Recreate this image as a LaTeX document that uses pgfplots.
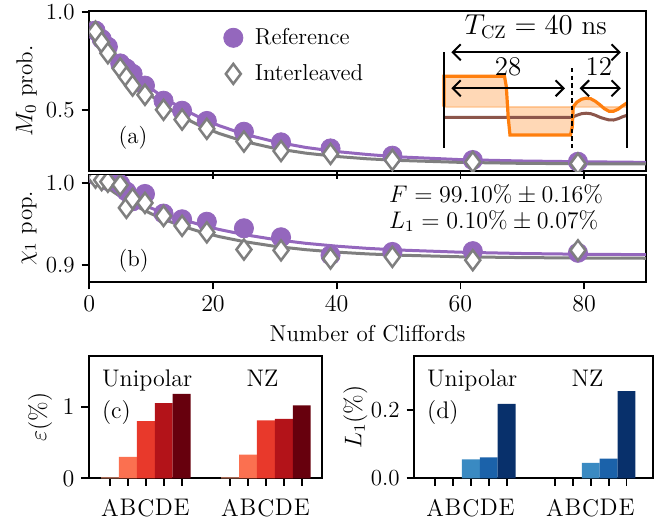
\documentclass[border=0pt]{standalone}
\usepackage{pgfplots}
\pgfplotsset{compat=1.18}
\usetikzlibrary{arrows.meta}
\definecolor{cpurple}{RGB}{148,103,189}
\definecolor{cgray}{RGB}{127,127,127}
\definecolor{corange}{RGB}{255,127,14}
\definecolor{cbrown}{RGB}{140,86,75}
\definecolor{redA}{HTML}{FCA082}
\definecolor{redB}{HTML}{FB7050}
\definecolor{redC}{HTML}{E8392B}
\definecolor{redD}{HTML}{B31319}
\definecolor{redE}{HTML}{67000D}
\definecolor{blueC}{HTML}{3A8AC2}
\definecolor{blueD}{HTML}{1B62AA}
\definecolor{blueE}{HTML}{08306B}
\begin{document}
\begin{tikzpicture}[font=\fontsize{11}{13}\selectfont]
\pgfplotsset{
  every axis/.append style={
    scale only axis,
    axis line style={line width=0.9pt},
    every tick/.style={line width=0.9pt, black},
    major tick length=3.8pt,
    tick align=outside,
    xtick pos=left, ytick pos=left,
    tick label style={font=\fontsize{11.5}{13}\selectfont},
    label style={font=\fontsize{11.5}{13}\selectfont},
  },
}
% ---------------- panel (a)
\begin{axis}[
  at={(44.65pt,-5.5pt)}, anchor=north west,
  width=278.35pt, height=80pt,
  xmin=0, xmax=90, ymin=0.19, ymax=1.005,
  xtick={20,40,60,80}, xticklabels={},
  ytick={0.5,1.0}, yticklabels={0.5,1.0},
  ylabel={$M_0$ prob.},
  ylabel style={at={(axis description cs:-0.113,0.5)}, anchor=center},
  clip marker paths=true,
  legend style={draw=none, fill=none, at={(axis description cs:0.23,0.945)}, anchor=north west, row sep=4.5pt, font=\fontsize{11.5}{13}\selectfont,
    /tikz/every odd column/.append style={column sep=4pt}},
  legend cell align=left,
]
\addplot[cpurple, line width=1.5pt, forget plot] coordinates {
(0,0.942) (1,0.899) (2,0.858) (3,0.819) (4,0.784) (5,0.750) (6,0.718) (8,0.660) (10,0.610) (12,0.565) (15,0.508) (18,0.460) (21,0.421) (25,0.378) (30,0.339) (35,0.310) (40,0.289) (45,0.274) (50,0.262) (60,0.248) (70,0.241) (80,0.237) (90,0.234)};
\addplot[cgray, line width=1.5pt, forget plot] coordinates {
(0,0.951) (1,0.900) (2,0.852) (3,0.808) (4,0.767) (5,0.728) (6,0.693) (8,0.629) (10,0.574) (12,0.526) (15,0.466) (18,0.419) (21,0.381) (25,0.341) (30,0.305) (35,0.281) (40,0.264) (45,0.252) (50,0.244) (60,0.234) (70,0.229) (80,0.227) (90,0.226)};
\addplot[only marks, mark=*, mark size=4.8pt, mark options={fill=cpurple, draw=cpurple}] coordinates {
(1,0.905) (2,0.862) (3,0.823) (5,0.738) (6,0.712) (7,0.685) (9,0.625) (12,0.548) (15,0.497) (19,0.445) (25,0.390) (31,0.336) (39,0.305) (49,0.268) (62,0.246) (79,0.237)};
\addlegendentry{Reference}
\addplot[only marks, mark=diamond*, mark size=5pt, mark options={fill=white, draw=cgray, line width=1.25pt}] coordinates {
(1,0.900) (2,0.845) (3,0.790) (5,0.712) (6,0.668) (7,0.625) (9,0.578) (12,0.502) (15,0.452) (19,0.405) (25,0.340) (31,0.292) (39,0.277) (49,0.246) (62,0.236) (79,0.228)};
\addlegendentry{Interleaved}
\node[anchor=base west, inner sep=0pt, font=\fontsize{11.5}{13}\selectfont] at (axis description cs:0.052,0.17) {(a)};
\end{axis}
% ---------------- inset pulse
\begin{axis}[
  at={(222pt,-23.35pt)}, anchor=north west,
  width=91.65pt, height=52.5pt,
  xmin=0, xmax=40, ymin=-45, ymax=60,
  hide axis, clip=false,
]
\addplot[draw=none, fill=corange, fill opacity=0.3] coordinates {
(0,0) (0,30.5) (13.2,30.5) (13.6,20) (14.0,-10) (14.4,-28.3) (27.6,-28.3) (28,-20) (28.2,0)
(29,4.5) (30,7.5) (31,8.5) (32,8) (33,5.5) (34,2) (35,-2) (36,-4.5) (37,-4.5) (38,-2.5) (39,1) (40,4) (40,0)} -- cycle;
\addplot[corange, opacity=0.3, line width=1.2pt] coordinates {(0,0) (40,0)};
\addplot[cbrown, line width=1.5pt] coordinates {
(0,-10.6) (28,-10.6) (29,-8.5) (30,-7) (31,-6.5) (32,-7) (33,-8.5) (34,-10.5) (35,-12) (36,-13.2) (37,-13.3) (38,-12) (39,-10) (40,-8.5)};
\addplot[corange, line width=1.6pt] coordinates {
(0,0) (0,30.5) (13.2,30.5) (13.6,20) (14.0,-10) (14.4,-28.3) (27.6,-28.3) (28,-20) (28.2,0)
(29,4.5) (30,7.5) (31,8.5) (32,8) (33,5.5) (34,2) (35,-2) (36,-4.5) (37,-4.5) (38,-2.5) (39,1) (40,4)};
\draw[line width=1pt] (axis cs:0,54.7) -- (axis cs:0,-41.3);
\draw[line width=1pt] (axis cs:40,54.7) -- (axis cs:40,-41.3);
\draw[line width=1pt, dash pattern=on 2.2pt off 1.6pt] (axis cs:28,38.7) -- (axis cs:28,-41.3);
\draw[line width=1pt, {Straight Barb[length=4pt,width=8pt]}-{Straight Barb[length=4pt,width=8pt]}] (axis cs:1.6,54.4) -- (axis cs:38.6,54.4);
\draw[line width=1pt, {Straight Barb[length=4pt,width=8pt]}-{Straight Barb[length=4pt,width=8pt]}] (axis cs:1.6,18.4) -- (axis cs:26.4,18.4);
\draw[line width=1pt, {Straight Barb[length=4pt,width=8pt]}-{Straight Barb[length=4pt,width=8pt]}] (axis cs:29.6,18.4) -- (axis cs:38.6,18.4);
\node[font=\fontsize{13.5}{15}\selectfont] at (axis cs:20,80) {$T_{\mathrm{CZ}} = 40$ ns};
\node[font=\fontsize{13.5}{15}\selectfont] at (axis cs:14,39.7) {28};
\node[font=\fontsize{13.5}{15}\selectfont] at (axis cs:33.8,39.7) {12};
\end{axis}
% ---------------- panel (b)
\begin{axis}[
  at={(44.65pt,-87.5pt)}, anchor=north west,
  width=278.35pt, height=53.35pt,
  xmin=0, xmax=90, ymin=0.8796, ymax=1.0102,
  xtick={0,20,40,60,80},
  ytick={0.9,1.0}, yticklabels={0.9,1.0},
  ylabel={$\chi_1$ pop.},
  ylabel style={at={(axis description cs:-0.108,0.5)}, anchor=center},
  xlabel={Number of Cliffords},
  clip marker paths=true,
]
\addplot[cpurple, line width=1.5pt] coordinates {
(0,1.012) (1,1.0067) (2,1.0016) (3,0.9968) (4,0.9923) (5,0.9880) (6,0.9839) (8,0.9764) (10,0.9697) (12,0.9637) (15,0.9558) (18,0.9492) (21,0.9435) (25,0.9373) (30,0.9312) (35,0.9266) (40,0.9231) (45,0.9204) (50,0.9184) (60,0.9157) (70,0.9141) (80,0.9132) (90,0.9127)};
\addplot[cgray, line width=1.5pt] coordinates {
(0,1.013) (1,1.0064) (2,1.0002) (3,0.9944) (4,0.9890) (5,0.9839) (6,0.9791) (8,0.9704) (10,0.9628) (12,0.9561) (15,0.9476) (18,0.9406) (21,0.9348) (25,0.9287) (30,0.9229) (35,0.9188) (40,0.9158) (45,0.9136) (50,0.9121) (60,0.9101) (70,0.9091) (80,0.9086) (90,0.9083)};
\addplot[only marks, mark=*, mark size=4.8pt, mark options={fill=cpurple, draw=cpurple}] coordinates {
(1,1.010) (2,1.007) (3,1.003) (5,0.999) (6,0.990) (7,0.978) (9,0.987) (12,0.963) (15,0.956) (19,0.953) (25,0.945) (31,0.934) (39,0.912) (49,0.916) (62,0.917) (79,0.915)};
\addplot[only marks, mark=diamond*, mark size=5pt, mark options={fill=white, draw=cgray, line width=1.25pt}] coordinates {
(1,1.007) (2,1.004) (3,1.002) (5,0.998) (6,0.970) (7,0.981) (9,0.976) (12,0.960) (15,0.948) (19,0.940) (25,0.919) (31,0.918) (39,0.908) (49,0.910) (62,0.906) (79,0.918)};
\node[anchor=base west, inner sep=0pt, font=\fontsize{11.5}{13}\selectfont] at (axis description cs:0.052,0.14) {(b)};
\node[anchor=base west, inner sep=0pt, font=\fontsize{12}{14}\selectfont] at (axis description cs:0.538,0.74) {$F = 99.10\% \pm 0.16\%$};
\node[anchor=base west, inner sep=0pt, font=\fontsize{12}{14}\selectfont] at (axis description cs:0.538,0.50) {$L_1 = 0.10\% \pm 0.07\%$};
\end{axis}
% ---------------- panel (c)
\begin{axis}[
  at={(44.5pt,-178pt)}, anchor=north west,
  width=116.5pt, height=61.15pt,
  xmin=-1.17, xmax=11.83, ymin=0, ymax=1.71,
  xtick={0,1,2,3,4,6.7,7.7,8.7,9.7,10.7},
  xticklabels={A,B,C,D,E,A,B,C,D,E},
  xticklabel style={inner sep=0pt, yshift=-6.5pt, font=\fontsize{12}{14}\selectfont},
  ytick={0,1},
  ylabel={$\varepsilon(\%)$},
  ylabel style={at={(axis description cs:-0.21,0.5)}, anchor=center},
]
\addplot[ybar, bar width=1, bar shift=0pt, fill=redA, draw=none] coordinates {(0,0.012) (6.7,0.012)};
\addplot[ybar, bar width=1, bar shift=0pt, fill=redB, draw=none] coordinates {(1,0.30) (7.7,0.33)};
\addplot[ybar, bar width=1, bar shift=0pt, fill=redC, draw=none] coordinates {(2,0.80) (8.7,0.81)};
\addplot[ybar, bar width=1, bar shift=0pt, fill=redD, draw=none] coordinates {(3,1.05) (9.7,0.83)};
\addplot[ybar, bar width=1, bar shift=0pt, fill=redE, draw=none] coordinates {(4,1.18) (10.7,1.02)};
\node[anchor=base west, inner sep=0pt, font=\fontsize{12}{14}\selectfont] at (axis description cs:0.0545,0.749) {Unipolar};
\node[anchor=base west, inner sep=0pt, font=\fontsize{12}{14}\selectfont] at (axis description cs:0.0545,0.493) {(c)};
\node[anchor=base, inner sep=0pt, font=\fontsize{12}{14}\selectfont] at (axis description cs:0.745,0.749) {NZ};
\end{axis}
% ---------------- panel (d)
\begin{axis}[
  at={(207.15pt,-178pt)}, anchor=north west,
  width=119.35pt, height=61.15pt,
  xmin=-1.16, xmax=12.18, ymin=0, ymax=0.356,
  xtick={0,1,2,3,4,6.7,7.7,8.7,9.7,10.7},
  xticklabels={A,B,C,D,E,A,B,C,D,E},
  xticklabel style={inner sep=0pt, yshift=-6.5pt, font=\fontsize{12}{14}\selectfont},
  ytick={0,0.2}, yticklabels={0.0,0.2},
  ylabel={$L_1(\%)$},
  ylabel style={at={(axis description cs:-0.247,0.5)}, anchor=center},
]
\addplot[ybar, bar width=1, bar shift=0pt, fill=blueC, draw=none] coordinates {(2,0.055) (8.7,0.045)};
\addplot[ybar, bar width=1, bar shift=0pt, fill=blueD, draw=none] coordinates {(3,0.061) (9.7,0.057)};
\addplot[ybar, bar width=1, bar shift=0pt, fill=blueE, draw=none] coordinates {(4,0.217) (10.7,0.254)};
\node[anchor=base west, inner sep=0pt, font=\fontsize{12}{14}\selectfont] at (axis description cs:0.052,0.749) {Unipolar};
\node[anchor=base west, inner sep=0pt, font=\fontsize{12}{14}\selectfont] at (axis description cs:0.052,0.493) {(d)};
\node[anchor=base, inner sep=0pt, font=\fontsize{12}{14}\selectfont] at (axis description cs:0.726,0.749) {NZ};
\end{axis}
\pgfresetboundingbox
\path[use as bounding box] (0,0) rectangle (327pt,-260.5pt);
\end{tikzpicture}
\end{document}
